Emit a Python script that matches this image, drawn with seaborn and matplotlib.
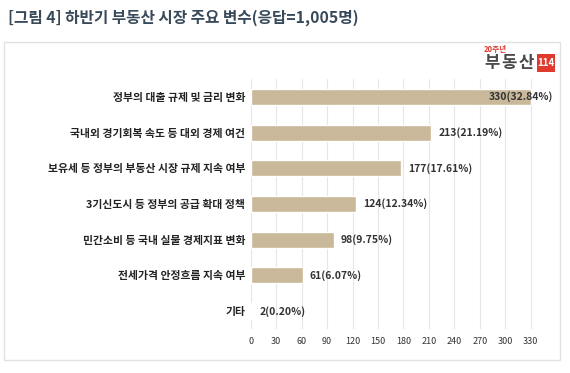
import matplotlib
matplotlib.use("Agg")
import matplotlib.pyplot as plt
import seaborn as sns
import pandas as pd
from matplotlib.patches import Rectangle

categories = [
    "정부의 대출 규제 및 금리 변화",
    "국내외 경기회복 속도 등 대외 경제 여건",
    "보유세 등 정부의 부동산 시장 규제 지속 여부",
    "3기신도시 등 정부의 공급 확대 정책",
    "민간소비 등 국내 실물 경제지표 변화",
    "전세가격 안정흐름 지속 여부",
    "기타",
]
counts = [330, 213, 177, 124, 98, 61, 2]
percents = ["32.84%", "21.19%", "17.61%", "12.34%", "9.75%", "6.07%", "0.20%"]
xticks = [0, 30, 60, 90, 120, 150, 180, 210, 240, 270, 300, 330]

sns.set_theme(style="white")
plt.rcParams["font.family"] = ["Noto Sans CJK KR", "DejaVu Sans"]

df = pd.DataFrame({"category": categories, "count": counts})

fig = plt.figure(figsize=(5.70, 3.73), dpi=100)
ax = fig.add_axes([0.440, 0.118, 0.506, 0.670])

sns.barplot(data=df, y="category", x="count", color="#C9B99A", width=0.45,
            saturation=1, ax=ax, zorder=3)

ax.set_xlim(0, 340)
ax.set_ylim(6.5, -0.5)
ax.set_xticks(xticks)
ax.set_xticklabels([str(t) for t in xticks], fontsize=6.5, color="#333333")
ax.tick_params(axis="x", length=0, pad=6)
ax.tick_params(axis="y", length=0, pad=4)
for lbl in ax.get_yticklabels():
    lbl.set_fontsize(7.8)
    lbl.set_fontweight("bold")
    lbl.set_color("#222222")
ax.set_xlabel("")
ax.set_ylabel("")
ax.grid(axis="x", color="#e6e6e6", linewidth=0.8, zorder=0)
for s in ax.spines.values():
    s.set_visible(False)

for i, (c, p) in enumerate(zip(counts, percents)):
    text = f"{c}({p})"
    if c >= 300:
        ax.annotate(text, xy=(c, i), xytext=(16, 0), textcoords="offset points",
                    ha="right", va="center", fontsize=7.5, fontweight="bold",
                    color="#333333", zorder=5, annotation_clip=False)
    else:
        ax.annotate(text, xy=(c, i), xytext=(5, 0), textcoords="offset points",
                    ha="left", va="center", fontsize=7.5, fontweight="bold",
                    color="#333333", zorder=5, annotation_clip=False)

# Title
fig.text(0.014, 0.952, "[그림 4] 하반기 부동산 시장 주요 변수(응답=1,005명)",
         fontsize=11.3, fontweight="bold", color="#38495a", ha="left", va="center")

# Outer frame
fig.patches.append(Rectangle((0.007, 0.035), 0.976, 0.853, transform=fig.transFigure,
                             fill=False, edgecolor="#e2e2e2", linewidth=1.0))

# Logo
fig.text(484 / 570, 0.866, "20주년", fontsize=5.5, fontweight="bold", color="#e03a2e",
         ha="left", va="center")
for ch, cx in zip("부동산", [492, 509, 526]):
    fig.text(cx / 570, 0.830, ch, fontsize=12, fontweight="bold", color="#4a4a4a",
             ha="center", va="center")
fig.patches.append(Rectangle((537 / 570, 0.807), 18 / 570, 0.048, transform=fig.transFigure,
                             facecolor="#e03a2e", edgecolor="none"))
fig.text(546 / 570, 0.831, "114", fontsize=7, fontweight="bold", color="white",
         ha="center", va="center")

fig.savefig("out.png", dpi=100)
